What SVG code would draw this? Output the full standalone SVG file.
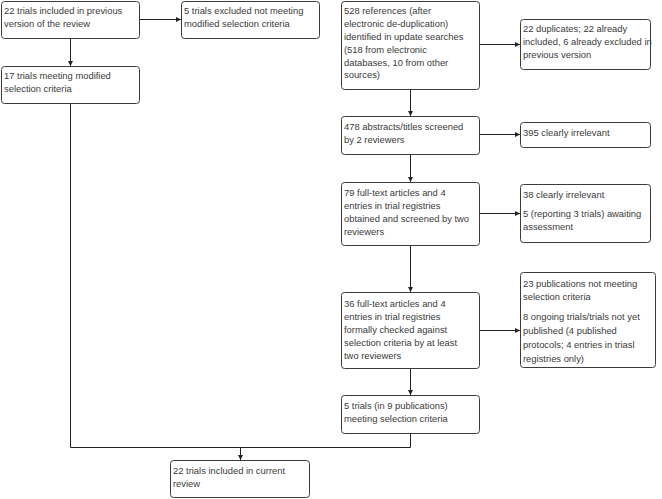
<svg xmlns="http://www.w3.org/2000/svg" width="662" height="499" viewBox="0 0 662 499">
<defs>
<marker id="ah" viewBox="0 0 6 6" refX="6" refY="3" markerWidth="5" markerHeight="5" orient="auto" markerUnits="userSpaceOnUse">
<path d="M0,0 L6,3 L0,6 Z" fill="#222"/>
</marker>
<style>
rect{fill:#fff;stroke:#3c3c3c;stroke-width:1}
text{font-family:"Liberation Sans",Arial,sans-serif;font-size:9.4px;fill:#3a3a3a}
.c path{fill:none;stroke:#222;stroke-width:1}
.c .a{marker-end:url(#ah)}
</style>
</defs>
<rect x="0" y="0" width="662" height="499" style="fill:#fff;stroke:none"/>
<g class="c" id="connectors">
<path class="a" d="M139.5,19.5 H181"/>
<path class="a" d="M70.5,38.5 V66"/>
<path class="a" d="M479.5,44.5 H520"/>
<path class="a" d="M410.5,89.5 V116"/>
<path class="a" d="M479.5,134.5 H520"/>
<path class="a" d="M410.5,154.5 V182"/>
<path class="a" d="M479.5,213.5 H520"/>
<path class="a" d="M410.5,245.5 V292"/>
<path class="a" d="M479.5,330.5 H520"/>
<path class="a" d="M410.5,368.5 V395"/>
<path d="M70.5,103.5 V447.5 H410.5 V433.5"/>
<path class="a" d="M240.5,447.5 V460"/>
</g>
<g id="n1"><rect x="1.5" y="1.5" width="138" height="37" rx="3"/>
<text x="4" y="14">22 trials included in previous</text><text x="4" y="27">version of the review</text></g>
<g id="n2"><rect x="181.5" y="1.5" width="138" height="37" rx="3"/>
<text x="184" y="14">5 trials excluded not meeting</text><text x="184" y="27">modified selection criteria</text></g>
<g id="n3"><rect x="1.5" y="66.5" width="138" height="37" rx="3"/>
<text x="4" y="79">17 trials meeting modified</text><text x="4" y="92">selection criteria</text></g>
<g id="n4"><rect x="341.5" y="1.5" width="138" height="88" rx="3"/>
<text x="344" y="14">528 references (after</text><text x="344" y="27">electronic de-duplication)</text><text x="344" y="40">identified in update searches</text><text x="344" y="53">(518 from electronic</text><text x="344" y="66">databases, 10 from other</text><text x="344" y="78">sources)</text></g>
<g id="n5"><rect x="520.5" y="19.5" width="130" height="50" rx="3"/>
<text x="523" y="32">22 duplicates; 22 already</text><text x="523" y="45">included, 6 already excluded in</text><text x="523" y="58">previous version</text></g>
<g id="n6"><rect x="341.5" y="116.5" width="138" height="38" rx="3"/>
<text x="344" y="130">478 abstracts/titles screened</text><text x="344" y="143">by 2 reviewers</text></g>
<g id="n7"><rect x="520.5" y="122.5" width="130" height="25" rx="3"/>
<text x="523" y="136">395 clearly irrelevant</text></g>
<g id="n8"><rect x="341.5" y="182.5" width="138" height="63" rx="3"/>
<text x="344" y="196">79 full-text articles and 4</text><text x="344" y="209">entries in trial registries</text><text x="344" y="222">obtained and screened by two</text><text x="344" y="235">reviewers</text></g>
<g id="n9"><rect x="520.5" y="184.5" width="130" height="58" rx="3"/>
<text x="523" y="198">38 clearly irrelevant</text><text x="523" y="217">5 (reporting 3 trials) awaiting</text><text x="523" y="230">assessment</text></g>
<g id="n10"><rect x="341.5" y="292.5" width="138" height="76" rx="3"/>
<text x="344" y="307">36 full-text articles and 4</text><text x="344" y="320">entries in trial registries</text><text x="344" y="333">formally checked against</text><text x="344" y="346">selection criteria by at least</text><text x="344" y="359">two reviewers</text></g>
<g id="n11"><rect x="520.5" y="272.5" width="135" height="95" rx="3"/>
<text x="523" y="287">23 publications not meeting</text><text x="523" y="300">selection criteria</text><text x="523" y="320">8 ongoing trials/trials not yet</text><text x="523" y="334">published (4 published</text><text x="523" y="348">protocols; 4 entries in triasl</text><text x="523" y="362">registries only)</text></g>
<g id="n12"><rect x="341.5" y="395.5" width="138" height="38" rx="3"/>
<text x="344" y="409">5 trials (in 9 publications)</text><text x="344" y="422">meeting selection criteria</text></g>
<g id="n13"><rect x="170.5" y="460.5" width="139" height="37" rx="3"/>
<text x="173" y="474">22 trials included in current</text><text x="173" y="487">review</text></g>
</svg>
